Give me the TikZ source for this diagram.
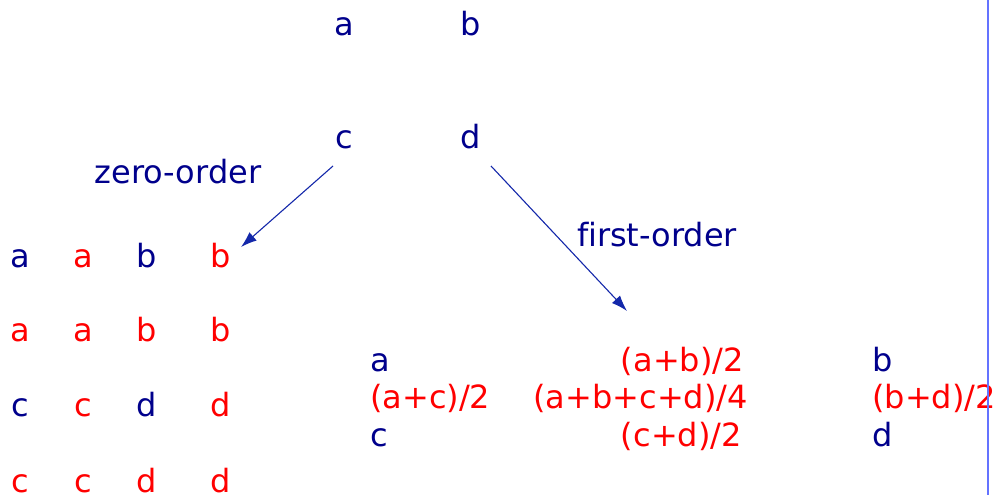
\documentclass[tikz,border=0pt]{standalone}
\usepackage{fontspec}
\setmainfont{DejaVu Sans}[Ligatures={NoCommon}]
\usetikzlibrary{arrows.meta}
\definecolor{tblue}{RGB}{0,0,140}
\definecolor{tred}{RGB}{255,0,0}
\definecolor{arrowblue}{RGB}{20,40,170}
\definecolor{lineblue}{RGB}{100,115,255}
\begin{document}
\begin{tikzpicture}[x=1pt,y=-1pt,
  txt/.style={inner sep=0pt,font=\fontsize{32}{38}\selectfont},
  bl/.style={txt,text=tblue},
  rd/.style={txt,text=tred},
  arr/.style={draw=arrowblue,line width=1.1pt,-{Latex[length=16pt,width=11pt]}}]
\useasboundingbox (0,0) rectangle (1008,495);
% top
\node[bl,anchor=base] (ta) at (344,36) {a};
\node[bl,anchor=base] (tb) at (471,36) {b};
\node[bl,anchor=base] (tc) at (344,148) {c};
\node[bl,anchor=base] (td) at (471,148) {d};
\node[bl,anchor=base] (zo) at (178,183) {zero-order};
\node[bl,anchor=base] (fo) at (657,246) {first-order};
% left grid
\node[bl,anchor=base] (g11) at (20,267) {a};
\node[rd,anchor=base] (g12) at (83,267) {a};
\node[bl,anchor=base] (g13) at (147,267) {b};
\node[rd,anchor=base] (g14) at (221,267) {b};
\node[rd,anchor=base] (g21) at (20,341) {a};
\node[rd,anchor=base] (g22) at (83,341) {a};
\node[rd,anchor=base] (g23) at (147,341) {b};
\node[rd,anchor=base] (g24) at (221,341) {b};
\node[bl,anchor=base] (g31) at (20,416) {c};
\node[rd,anchor=base] (g32) at (83,416) {c};
\node[bl,anchor=base] (g33) at (147,416) {d};
\node[rd,anchor=base] (g34) at (221,416) {d};
\node[rd,anchor=base] (g41) at (20,492) {c};
\node[rd,anchor=base] (g42) at (83,492) {c};
\node[rd,anchor=base] (g43) at (147,492) {d};
\node[rd,anchor=base] (g44) at (221,492) {d};
% right table
\node[bl,anchor=base west] (r11) at (370,371) {a};
\node[rd,anchor=base east] (r12) at (744,371) {(a+b)/2};
\node[bl,anchor=base west] (r13) at (872,371) {b};
\node[rd,anchor=base west] (r21) at (370,408) {(a+c)/2};
\node[rd,anchor=base east] (r22) at (748,408) {(a+b+c+d)/4};
\node[rd,anchor=base west] (r23) at (872,408) {(b+d)/2};
\node[bl,anchor=base west] (r31) at (370,446) {c};
\node[rd,anchor=base east] (r32) at (742,446) {(c+d)/2};
\node[bl,anchor=base west] (r33) at (872,446) {d};
% arrows
\coordinate (zs) at (333,166);
\coordinate (ze) at (241,247);
\coordinate (fs) at (491,166);
\coordinate (fe) at (627,311);
\draw[arr] (zs) -- (ze);
\draw[arr] (fs) -- (fe);
% vertical line
\coordinate (vt) at (988,0);
\coordinate (vb) at (988,495);
\draw[lineblue,line width=1.2pt] (vt) -- (vb);
\end{tikzpicture}
\end{document}
